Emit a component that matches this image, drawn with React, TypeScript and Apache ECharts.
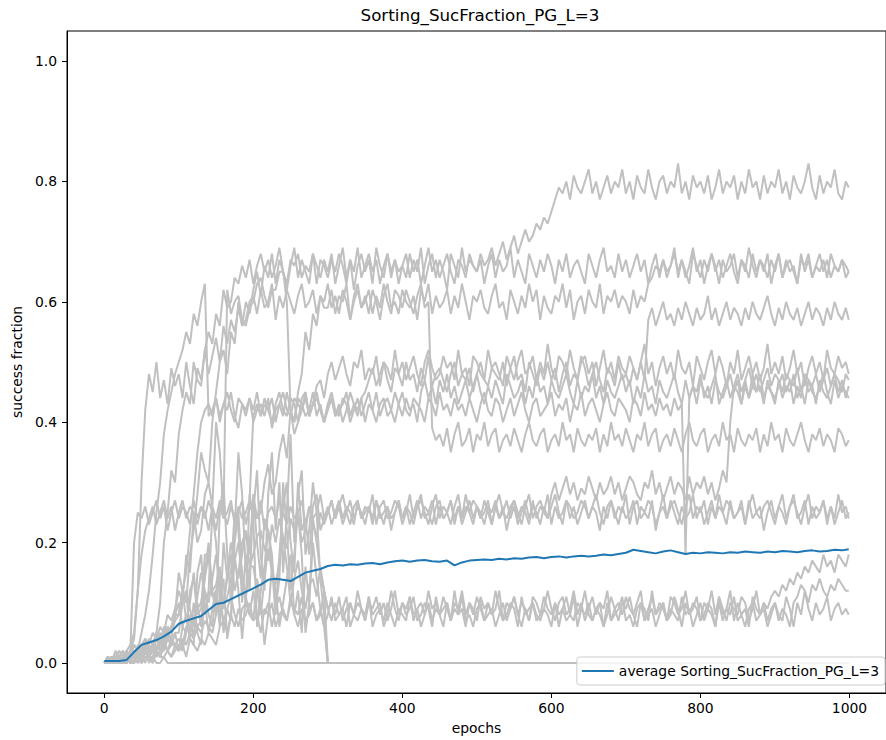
import React, { useEffect, useRef } from "react";
import * as echarts from "echarts";

// Sampling grids (epochs): runs every 5 epochs, average every 10 epochs; last sample is epoch 999
const RUN_EPOCHS: number[] = Array.from({ length: 201 }, (_, i) => Math.min(i * 5, 999));
const AVG_EPOCHS: number[] = Array.from({ length: 101 }, (_, i) => Math.min(i * 10, 999));

const X_TICKS = [0, 200, 400, 600, 800, 1000];
const Y_TICKS = [0, 0.2, 0.4, 0.6, 0.8, 1.0];

const TITLE = "Sorting_SucFraction_PG_L=3";
const AVG_NAME = "average Sorting_SucFraction_PG_L=3";

// Individual runs: success fraction in hundredths, one row = 100 epochs (20 samples), plus epoch 999
const RUN_01 = [
  0,1,0,1,2,1,0,2,4,12,30,42,48,45,50,44,47,43,49,46,
  48,44,50,46,43,49,47,52,48,51,54,50,56,53,57,55,59,56,60,58,
  62,65,61,66,64,68,63,67,65,62,66,69,64,67,65,63,68,66,64,67,
  65,68,63,66,69,64,67,62,66,68,65,67,63,69,66,64,68,65,67,63,
  66,68,64,67,65,69,63,66,68,64,67,65,62,68,66,64,69,65,67,66,
  65,68,66,67,69,66,68,70,67,69,71,68,70,72,70,71,73,72,74,73,
  75,77,79,78,80,77,81,79,78,80,82,78,80,77,79,81,78,80,79,82,
  78,80,77,81,79,78,82,79,77,80,81,78,80,79,83,78,80,77,81,79,
  80,78,81,77,79,82,78,80,79,81,77,80,78,82,79,80,77,81,78,80,
  79,82,78,80,77,81,79,78,80,83,79,77,81,78,80,79,82,78,77,80,
  79];
const RUN_02 = [
  0,0,1,0,0,1,1,0,2,1,1,2,3,2,5,10,20,25,32,30,
  38,42,45,43,50,47,46,52,55,53,58,56,62,59,60,64,63,66,64,67,
  63,66,68,65,67,64,66,69,65,63,67,66,68,64,66,65,68,63,67,66,
  64,67,65,68,66,63,67,65,69,64,66,68,65,67,63,66,68,64,67,65,
  66,64,68,65,67,63,66,69,65,67,64,66,68,65,63,67,66,64,68,66,
  65,67,63,66,68,64,67,65,66,69,64,67,65,63,68,66,64,67,65,68,
  66,63,67,65,68,64,66,67,65,63,68,66,64,67,69,65,66,64,68,65,
  67,64,66,68,65,67,63,66,68,64,67,65,66,69,64,67,65,63,68,66,
  64,67,65,68,66,63,67,65,66,68,64,67,65,69,66,64,67,65,68,63,
  66,68,64,67,65,66,63,68,65,67,64,66,68,65,67,64,66,65,67,64,
  65];
const RUN_03 = [
  0,1,0,0,1,0,2,1,1,3,2,4,3,5,4,6,5,8,7,9,
  12,10,18,15,25,20,22,28,30,26,40,35,25,62,58,60,61,57,56,59,
  60,63,64,61,59,62,62,65,65,60,42,40,45,48,55,52,58,56,61,59,
  59,62,58,61,60,63,57,60,62,59,61,58,62,60,57,61,63,59,60,58,
  62,60,59,61,57,62,60,63,58,61,59,60,62,58,61,59,63,60,57,61,
  60,62,59,58,61,63,59,60,57,62,60,58,61,59,63,60,62,57,61,59,
  58,61,60,63,59,62,57,60,61,58,62,60,59,63,58,61,60,62,59,61,
  60,58,62,59,61,60,63,64,66,65,67,64,66,68,65,67,64,66,69,65,
  67,63,66,68,65,67,64,66,68,65,63,67,66,64,68,65,67,66,64,67,
  65,68,64,66,67,65,63,67,66,68,64,66,65,67,64,68,66,65,67,66,
  65];
const RUN_04 = [
  0,0,0,1,0,0,1,0,2,1,1,2,1,3,2,4,3,5,6,8,
  8,12,15,22,28,35,40,42,43,41,44,40,43,42,45,41,39,43,42,44,
  40,42,43,41,44,39,42,43,41,45,42,40,44,43,41,42,45,41,43,40,
  42,44,41,43,40,42,45,43,41,44,45,47,49,46,48,50,47,45,49,48,
  46,50,47,48,45,49,47,51,46,48,49,47,45,48,50,46,48,47,49,45,
  48,50,47,46,49,48,47,50,46,49,51,47,48,45,50,48,46,49,47,50,
  47,49,45,48,50,46,48,47,51,49,46,48,50,47,45,49,48,46,50,47,
  48,46,49,47,50,47,57,59,56,58,60,57,58,56,59,57,60,58,56,59,
  57,58,61,57,59,56,58,60,57,59,58,56,59,57,60,58,57,59,61,58,
  56,59,57,60,58,57,59,56,58,60,57,59,58,56,59,57,60,58,57,59,
  57];
const RUN_05 = [
  0,1,0,0,1,0,0,1,2,1,0,2,1,3,2,1,3,2,4,3,
  4,3,6,5,8,6,7,10,5,9,12,8,10,14,18,12,15,20,22,18,
  28,24,25,30,33,28,30,35,38,34,42,38,40,44,45,41,43,46,47,44,
  48,50,47,49,51,48,46,50,49,52,47,49,48,51,46,50,49,47,52,48,
  50,47,49,51,48,46,50,52,49,47,48,51,49,50,47,52,48,49,46,51,
  50,48,47,52,49,50,48,46,51,49,47,50,52,48,49,51,47,50,48,53,
  49,47,51,50,48,52,49,47,50,51,48,50,46,49,52,48,50,47,51,49,
  48,51,49,47,50,53,48,50,46,49,51,48,50,47,52,49,48,50,46,51,
  49,47,50,52,48,51,49,46,50,48,52,47,49,51,48,50,47,49,53,48,
  50,48,51,47,49,52,48,50,46,49,51,48,50,47,52,49,48,51,49,50,
  48];
const RUN_06 = [
  0,1,0,1,1,0,2,1,3,2,5,8,12,18,25,30,38,42,45,48,
  50,52,55,53,58,56,60,63,41,42,44,41,43,45,42,40,44,43,41,44,
  42,45,41,43,42,44,40,43,45,42,41,44,43,42,45,41,43,44,42,40,
  43,45,42,41,44,43,40,42,44,41,43,45,42,40,43,44,41,42,45,43,
  41,44,42,43,40,45,47,44,46,43,47,45,48,44,46,43,45,47,44,46,
  48,45,43,46,44,47,45,43,48,46,44,45,47,43,46,44,48,45,46,43,
  47,45,44,46,48,45,43,47,44,46,45,48,44,46,43,47,45,44,46,48,
  45,47,43,46,44,48,45,46,43,47,45,44,46,48,45,43,47,44,46,45,
  48,44,46,43,47,45,44,46,48,45,47,43,46,44,48,45,46,43,47,45,
  44,46,48,45,47,43,46,44,48,45,46,43,47,45,44,46,48,45,47,44,
  46];
const RUN_07 = [
  0,0,1,0,1,0,0,1,0,2,1,3,1,2,4,3,5,4,6,8,
  15,12,10,18,22,28,35,32,30,40,45,50,52,48,55,53,60,56,57,60,
  61,58,62,59,60,63,57,61,59,62,60,58,61,63,59,60,62,58,61,60,
  63,59,61,58,62,60,57,61,63,59,60,62,58,61,59,63,60,58,62,61,
  59,62,60,58,61,63,59,60,39,37,38,36,39,35,38,40,36,37,39,35,
  38,37,40,36,38,39,35,37,38,36,39,37,35,38,40,37,36,38,39,35,
  37,38,36,40,37,38,35,39,37,36,38,37,39,35,38,36,40,37,38,36,
  39,37,35,38,37,40,36,38,39,35,37,38,36,39,37,35,38,40,37,36,
  38,39,35,37,38,36,40,37,38,35,39,37,36,38,37,39,35,38,36,40,
  37,38,35,39,37,36,38,40,37,35,38,37,39,36,38,37,35,39,38,36,
  37];
const RUN_08 = [
  0,1,0,1,0,1,2,3,5,12,18,22,24,26,23,25,27,24,26,22,
  25,27,24,26,25,23,26,24,27,25,22,26,24,25,27,23,26,24,25,27,
  41,43,41,44,42,40,43,45,42,41,44,43,40,42,44,41,43,45,42,40,
  43,44,41,42,43,45,41,43,42,44,40,43,42,45,41,43,44,42,40,43,
  45,42,41,44,43,42,40,44,43,41,45,42,43,41,44,42,43,41,44,42,
  40,43,45,42,41,44,43,40,42,44,41,43,45,42,40,43,44,41,42,43,
  45,41,43,42,44,40,43,42,45,41,43,44,42,40,43,45,42,41,44,43,
  42,40,44,43,41,45,42,43,41,44,42,43,41,44,42,43,18,44,46,43,
  47,45,44,46,48,43,45,47,44,46,45,43,47,44,46,45,48,44,46,45,
  43,47,44,46,45,48,44,46,43,47,45,44,46,48,45,43,47,44,46,45,
  44];
const RUN_09 = [
  0,0,1,0,0,1,0,2,20,25,24,26,23,25,27,24,26,22,25,27,
  24,26,25,23,27,24,26,25,22,26,24,27,25,23,26,24,25,27,23,26,
  25,24,27,22,25,26,24,27,25,23,26,24,25,27,23,26,24,25,28,24,
  26,23,25,27,24,26,25,23,27,24,25,26,23,27,24,25,26,22,25,27,
  24,26,25,23,26,28,24,25,27,23,26,24,25,27,24,26,23,25,27,24,
  26,25,23,26,25,27,24,26,22,25,27,24,26,25,23,27,24,26,25,28,
  23,26,24,25,27,24,26,23,25,27,24,26,25,22,26,24,27,25,23,26,
  24,25,27,23,26,25,24,27,22,25,26,24,27,25,23,26,24,25,28,24,
  26,23,25,27,24,26,25,23,27,24,25,26,23,27,24,25,26,22,25,27,
  24,26,25,23,26,28,24,25,27,23,26,24,25,27,24,26,23,25,27,24,
  25];
const RUN_10 = [
  0,1,0,0,1,2,1,0,2,1,3,2,4,3,2,5,4,6,5,8,
  8,12,7,10,15,9,10,14,18,12,13,16,9,15,20,17,14,18,22,16,
  18,21,22,19,17,23,20,24,21,19,24,22,25,20,22,26,23,21,25,23,
  25,27,24,26,23,25,27,24,26,25,23,26,24,27,25,23,26,24,25,27,
  24,26,23,25,27,24,26,25,23,26,27,24,25,23,26,28,24,26,25,23,
  26,24,27,25,23,26,24,25,27,24,26,23,25,27,24,26,25,23,26,24,
  28,30,27,29,31,28,30,27,29,28,31,29,27,30,28,29,31,28,30,27,
  29,31,30,28,27,30,29,32,28,30,27,29,31,28,30,29,27,31,28,30,
  29,31,28,30,27,29,32,30,40,46,48,45,47,49,46,48,45,47,49,46,
  48,47,45,48,47,46,49,45,48,47,46,48,45,47,49,46,48,47,45,48,
  47];
const RUN_11 = [
  0,0,1,0,0,1,1,2,1,0,2,3,1,2,4,3,6,5,4,8,
  10,6,5,12,14,8,9,18,18,11,12,6,20,14,15,25,22,10,18,12,
  28,20,14,24,22,16,8,18,26,30,20,15,30,22,24,18,26,28,22,24,
  25,27,24,26,28,25,23,26,27,24,26,25,28,23,26,27,24,25,27,26,
  23,25,28,24,26,27,25,23,26,28,24,26,25,27,23,26,24,28,25,27,
  26,24,25,27,23,26,28,25,24,26,27,25,23,26,28,24,26,27,25,24,
  26,28,25,23,27,26,24,25,27,26,24,26,28,25,23,26,27,24,26,25,
  28,23,26,27,24,25,27,26,23,25,28,24,26,27,25,23,26,28,24,26,
  25,27,23,26,24,28,25,27,26,24,25,27,23,26,28,25,24,26,27,25,
  23,26,28,24,26,27,25,23,26,28,24,26,25,27,23,26,24,28,25,26,
  24];
const RUN_12 = [
  0,1,0,0,1,0,1,2,2,1,3,4,2,3,5,4,3,6,5,7,
  8,10,12,9,6,11,15,12,10,14,18,13,9,11,14,17,20,15,11,16,
  16,12,8,14,19,15,13,17,21,16,10,14,17,12,9,13,14,11,16,12,
  9,10,8,11,7,9,10,8,12,9,7,10,9,11,8,10,7,9,12,8,
  10,9,11,7,9,10,8,12,9,10,8,11,9,7,10,9,12,8,10,9,
  7,11,9,10,8,12,9,7,10,9,11,8,10,9,7,11,10,8,9,12,
  9,7,10,11,8,9,12,8,10,7,9,11,8,10,9,12,7,9,10,8,
  11,9,8,10,12,7,9,11,8,10,9,7,11,10,8,9,12,8,10,9,
  7,10,9,12,8,11,9,7,10,9,8,11,10,7,9,12,8,10,9,11,
  12,11,13,12,14,13,15,14,16,15,17,16,15,18,16,17,15,18,17,16,
  18];
const RUN_13 = [
  0,0,1,0,0,0,1,0,0,1,0,2,1,1,3,2,2,4,3,3,
  2,4,3,5,4,6,5,7,6,5,8,10,7,9,11,8,6,9,10,8,
  12,7,9,8,10,6,9,11,8,7,10,9,8,11,6,9,10,7,8,12,
  9,7,10,8,9,11,6,8,10,9,7,11,8,9,10,6,8,12,9,7,
  10,8,9,11,7,8,10,9,6,11,8,9,10,7,12,8,9,6,10,8,
  11,9,7,10,8,9,12,7,8,10,9,6,11,8,9,10,7,8,11,9,
  8,10,6,9,11,8,7,10,9,12,8,7,9,10,6,8,11,9,7,10,
  9,11,8,6,10,9,7,12,8,9,10,7,8,11,9,6,10,8,9,11,
  7,8,10,9,6,11,8,9,12,7,10,8,9,6,11,9,8,10,7,9,
  10,8,7,11,9,6,10,8,12,9,7,10,8,9,11,7,9,10,8,9,
  8];
const RUN_14 = [
  0,0,0,1,0,0,1,0,0,1,0,1,1,0,2,1,1,2,1,3,
  2,3,1,4,3,2,4,3,5,4,3,6,7,5,8,6,9,7,8,10,
  7,8,5,9,8,10,6,8,9,7,11,8,6,9,7,8,10,7,9,6,
  8,11,7,8,9,6,10,8,7,9,8,11,6,8,9,7,10,8,6,9,
  8,7,11,8,9,6,8,10,7,9,8,6,10,7,9,8,11,7,8,6,
  9,10,7,8,9,6,8,10,7,9,11,8,6,9,7,10,8,7,9,8,
  6,10,8,9,7,8,11,6,9,8,10,7,9,8,6,10,7,8,9,11,
  7,8,6,9,10,7,8,9,6,8,10,7,9,8,7,11,8,9,6,8,
  10,7,9,8,6,10,7,9,8,11,7,8,6,9,10,7,8,9,6,8,
  10,7,9,8,6,10,11,13,12,10,13,12,14,12,11,13,12,14,13,12,
  12];
const RUN_15 = [
  0,1,0,0,1,2,0,1,3,2,1,4,2,3,5,2,4,6,3,5,
  5,10,12,4,3,15,18,8,12,25,20,10,14,4,8,20,25,14,10,28,
  24,6,12,16,22,18,9,14,30,22,12,18,25,18,5,10,24,20,15,12,
  0,0,0,0,0,0,0,0,0,0,0,0,0,0,0,0,0,0,0,0,
  0,0,0,0,0,0,0,0,0,0,0,0,0,0,0,0,0,0,0,0,
  0,0,0,0,0,0,0,0,0,0,0,0,0,0,0,0,0,0,0,0,
  0,0,0,0,0,0,0,0,0,0,0,0,0,0,0,0,0,0,0,0,
  0,0,0,0,0,0,0,0,0,0,0,0,0,0,0,0,0,0,0,0,
  0,0,0,0,0,0,0,0,0,0,0,0,0,0,0,0,0,0,0,0,
  0,0,0,0,0,0,0,0,0,0,0,0,0,0,0,0,0,0,0,0,
  0];
const RUN_16 = [
  0,0,1,0,1,0,0,1,1,2,1,0,2,3,1,2,4,2,3,5,
  2,6,8,4,10,5,3,12,8,6,12,15,5,9,7,18,12,4,11,8,
  7,14,10,3,8,16,12,6,10,14,18,8,12,5,16,10,20,14,9,6,
  0,0,0,0,0,0,0,0,0,0,0,0,0,0,0,0,0,0,0,0,
  0,0,0,0,0,0,0,0,0,0,0,0,0,0,0,0,0,0,0,0,
  0,0,0,0,0,0,0,0,0,0,0,0,0,0,0,0,0,0,0,0,
  0,0,0,0,0,0,0,0,0,0,0,0,0,0,0,0,0,0,0,0,
  0,0,0,0,0,0,0,0,0,0,0,0,0,0,0,0,0,0,0,0,
  0,0,0,0,0,0,0,0,0,0,0,0,0,0,0,0,0,0,0,0,
  0,0,0,0,0,0,0,0,0,0,0,0,0,0,0,0,0,0,0,0,
  0];
const RUN_17 = [
  0,1,0,2,1,0,1,0,0,1,0,2,0,1,0,0,1,0,0,0,
  0,0,0,0,0,0,0,0,0,0,0,0,0,0,0,0,0,0,0,0,
  0,0,0,0,0,0,0,0,0,0,0,0,0,0,0,0,0,0,0,0,
  0,0,0,0,0,0,0,0,0,0,0,0,0,0,0,0,0,0,0,0,
  0,0,0,0,0,0,0,0,0,0,0,0,0,0,0,0,0,0,0,0,
  0,0,0,0,0,0,0,0,0,0,0,0,0,0,0,0,0,0,0,0,
  0,0,0,0,0,0,0,0,0,0,0,0,0,0,0,0,0,0,0,0,
  0,0,0,0,0,0,0,0,0,0,0,0,0,0,0,0,0,0,0,0,
  0,0,0,0,0,0,0,0,0,0,0,0,0,0,0,0,0,0,0,0,
  0,0,0,0,0,0,0,0,0,0,0,0,0,0,0,0,0,0,0,0,
  0];
const RUN_18 = [
  0,0,0,1,0,0,1,0,1,0,1,2,1,0,2,1,3,2,1,2,
  3,2,5,8,4,10,6,15,20,12,8,25,30,18,10,22,35,28,15,20,
  25,32,18,12,28,35,22,30,15,25,38,20,28,32,18,22,30,25,14,8,
  0,0,0,0,0,0,0,0,0,0,0,0,0,0,0,0,0,0,0,0,
  0,0,0,0,0,0,0,0,0,0,0,0,0,0,0,0,0,0,0,0,
  0,0,0,0,0,0,0,0,0,0,0,0,0,0,0,0,0,0,0,0,
  0,0,0,0,0,0,0,0,0,0,0,0,0,0,0,0,0,0,0,0,
  0,0,0,0,0,0,0,0,0,0,0,0,0,0,0,0,0,0,0,0,
  0,0,0,0,0,0,0,0,0,0,0,0,0,0,0,0,0,0,0,0,
  0,0,0,0,0,0,0,0,0,0,0,0,0,0,0,0,0,0,0,0,
  0];

const RUNS = [RUN_01, RUN_02, RUN_03, RUN_04, RUN_05, RUN_06, RUN_07, RUN_08, RUN_09,
  RUN_10, RUN_11, RUN_12, RUN_13, RUN_14, RUN_15, RUN_16, RUN_17, RUN_18];

// Average curve, thousandths, sampled every 10 epochs
const AVERAGE = [3,3,3,5,18,30,34,38,44,52,
  65,70,74,78,88,98,100,106,112,118,
  124,130,138,140,138,136,143,150,153,156,
  161,163,162,164,163,165,166,164,167,169,
  170,168,170,171,169,168,170,162,167,170,
  171,172,171,173,172,174,173,175,176,174,
  176,177,175,177,178,177,178,180,179,181,
  183,188,186,184,182,185,187,184,181,183,
  182,184,183,182,184,183,185,184,183,185,
  184,186,185,184,186,187,185,186,188,187,189];

const FONT = "'DejaVu Sans', sans-serif";

export default function App() {
  const ref = useRef<HTMLDivElement>(null);
  useEffect(() => {
    if (!ref.current) return;
    const chart = echarts.init(ref.current, null, { renderer: "svg" });
    const graySeries = RUNS.map((run, k) => ({
      type: "line",
      name: "run" + (k + 1),
      data: run.map((v, i) => [RUN_EPOCHS[i], v / 100]),
      showSymbol: false,
      symbol: "none",
      silent: true,
      z: 1,
      lineStyle: { color: "#c0c0c0", width: 2 },
      itemStyle: { color: "#c0c0c0" },
    }));
    chart.setOption({
      animation: false,
      graphic: [
        {
          type: "text",
          x: 480,
          y: 15,
          style: {
            text: TITLE,
            font: "16.7px " + FONT,
            fill: "#000",
            align: "center",
            verticalAlign: "middle",
          },
        },
      ],
      grid: {
        left: 67,
        top: 31,
        width: 826,
        height: 662,
        show: true,
        borderColor: "#000",
        borderWidth: 1,
      },
      legend: {
        data: [{ name: AVG_NAME, icon: "rect" }],
        right: 1,
        top: 657,
        itemWidth: 32,
        itemHeight: 2,
        padding: [7, 6, 7, 5],
        backgroundColor: "rgba(255,255,255,0.8)",
        borderColor: "#cccccc",
        borderWidth: 1,
        borderRadius: 3,
        textStyle: { fontFamily: FONT, fontSize: 13.9, color: "#000" },
      },
      xAxis: {
        type: "value",
        min: -50,
        max: 1049,
        name: "epochs",
        nameLocation: "middle",
        nameGap: 28,
        nameTextStyle: { fontFamily: FONT, fontSize: 13.9, color: "#000" },
        axisLine: { show: true, onZero: false, lineStyle: { color: "#000", width: 1 } },
        axisTick: { show: true, length: 5, customValues: X_TICKS, lineStyle: { color: "#000", width: 1 } },
        axisLabel: {
          customValues: X_TICKS,
          fontFamily: FONT,
          fontSize: 13.9,
          color: "#000",
          margin: 8,
          formatter: (v: number) => String(v),
        },
        splitLine: { show: false },
      },
      yAxis: {
        type: "value",
        min: -0.05,
        max: 1.05,
        name: "success fraction",
        nameLocation: "middle",
        nameGap: 40,
        nameTextStyle: { fontFamily: FONT, fontSize: 13.9, color: "#000" },
        axisLine: { show: true, onZero: false, lineStyle: { color: "#000", width: 1 } },
        axisTick: { show: true, length: 5, customValues: Y_TICKS, lineStyle: { color: "#000", width: 1 } },
        axisLabel: {
          customValues: Y_TICKS,
          fontFamily: FONT,
          fontSize: 13.9,
          color: "#000",
          margin: 10,
          formatter: (v: number) => v.toFixed(1),
        },
        splitLine: { show: false },
      },
      series: [
        ...graySeries,
        {
          type: "line",
          name: AVG_NAME,
          data: AVERAGE.map((v, i) => [AVG_EPOCHS[i], v / 1000]),
          showSymbol: false,
          symbol: "none",
          z: 3,
          lineStyle: { color: "#1f77b4", width: 2 },
          itemStyle: { color: "#1f77b4" },
        },
      ],
    });
    return () => chart.dispose();
  }, []);
  return (
    <div
      ref={ref}
      style={{ position: "fixed", left: 0, top: 0, width: 886, height: 740, background: "#fff" }}
    />
  );
}
